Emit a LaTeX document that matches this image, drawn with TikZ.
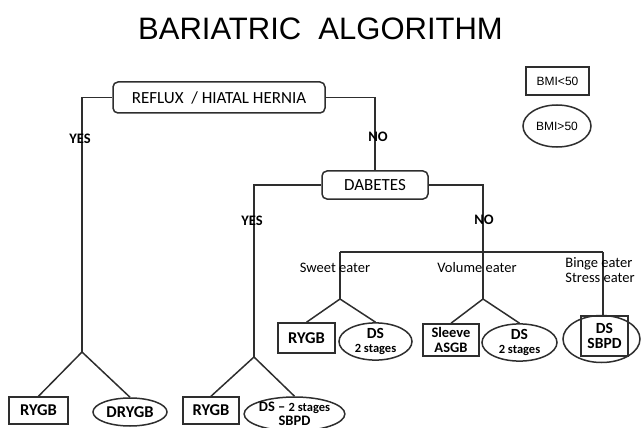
\documentclass[tikz,border=0pt]{standalone}
\usepackage{fontspec}
\setmainfont{Carlito}
\newfontfamily\arialf{Liberation Sans}
\usetikzlibrary{shapes.geometric}
\tikzset{
  ln/.style={line width=1.5pt, draw=black!82},
  rbox/.style={ln, rectangle, rounded corners=5pt, inner sep=0pt, font=\fontsize{17}{18}\selectfont},
  sbox/.style={ln, rectangle, inner sep=0pt, align=center},
  ebox/.style={ln, ellipse, inner sep=0pt, align=center},
  yn/.style={inner sep=0pt, font=\fontsize{14.5}{16}\selectfont\bfseries, text=black},
  eat/.style={inner sep=0pt, align=left, font=\fontsize{14.5}{15.5}\selectfont, text=black},
}
\begin{document}
\begin{tikzpicture}[x=1pt,y=-1pt]
\useasboundingbox (0,0) rectangle (641,428);
% title
\node[anchor=base, inner sep=0pt, font=\arialf\fontsize{31}{34}\selectfont] (title) at (320.5,40) {BARIATRIC\ \ ALGORITHM};
% legend
\node[sbox, minimum width=63pt, minimum height=28pt, font=\arialf\fontsize{12}{13}\selectfont] (lg1) at (557.5,81) {BMI<50};
\node[ebox, minimum width=68pt, minimum height=42pt, font=\arialf\fontsize{12}{13}\selectfont] (lg2) at (557,126) {BMI>50};
% decision boxes
\node[rbox, minimum width=212pt, minimum height=31pt] (reflux) at (219,97.5) {REFLUX\ \ / HIATAL HERNIA};
\node[rbox, minimum width=106pt, minimum height=28pt, font=\fontsize{17}{18}\selectfont] (dab) at (375,185) {DABETES};
% leaves bottom
\node[sbox, minimum width=59pt, minimum height=27pt, font=\fontsize{16.5}{18}\selectfont\bfseries] (rygb1) at (38.5,410.5) {RYGB};
\node[ebox, minimum width=74pt, minimum height=28pt, font=\fontsize{16.5}{18}\selectfont\bfseries] (drygb) at (130,412) {DRYGB};
\node[sbox, minimum width=56pt, minimum height=27pt, font=\fontsize{16.5}{18}\selectfont\bfseries] (rygb2) at (211,410.5) {RYGB};
\node[ebox, minimum width=97pt, minimum height=34pt, font=\fontsize{14.5}{14}\selectfont\bfseries] (ds1) at (294.5,414) {DS -- {\fontsize{12.5}{12}\selectfont 2 stages}\\SBPD};
% leaves middle
\node[sbox, minimum width=57pt, minimum height=30pt, font=\fontsize{16.5}{18}\selectfont\bfseries] (rygb3) at (306.5,338) {RYGB};
\node[ebox, minimum width=73pt, minimum height=33pt, font=\fontsize{15.5}{14}\selectfont\bfseries] (ds2) at (375.5,341.5) {DS\\{\fontsize{12.5}{13}\selectfont 2 stages}};
\node[sbox, minimum width=56pt, minimum height=32pt, font=\fontsize{14.5}{14.5}\selectfont\bfseries] (sleeve) at (451,340) {Sleeve\\ASGB};
\node[ebox, minimum width=75pt, minimum height=35pt, font=\fontsize{15.5}{14}\selectfont\bfseries] (ds3) at (519.5,342.5) {DS\\{\fontsize{12.5}{13}\selectfont 2 stages}};
\node[ebox, minimum width=77pt, minimum height=47pt] (ds4) at (601.5,339) {};
\node[sbox, minimum width=47pt, minimum height=40pt, font=\fontsize{15.5}{15.5}\selectfont\bfseries] (ds4b) at (604.5,336) {DS\\SBPD};
% coordinates
\coordinate (f1) at (82,352);
\coordinate (f2) at (254,357);
\coordinate (bm) at (483,252);
\coordinate (bl) at (340,252);
\coordinate (br) at (603,252);
\coordinate (f3) at (340,299);
\coordinate (f4) at (483,299);
% connectors
\draw[ln] (reflux.west) -| (f1);
\draw[ln] (f1) -- (rygb1.north);
\draw[ln] (f1) -- (drygb.north);
\draw[ln] (reflux.east) -| (dab.north);
\draw[ln] (dab.west) -| (f2);
\draw[ln] (f2) -- (rygb2.north);
\draw[ln] (f2) -- (ds1.north);
\draw[ln] (dab.east) -| (bm);
\draw[ln] (bl) -- (br);
\draw[ln] (bl) -- (f3);
\draw[ln] (f3) -- (rygb3.north);
\draw[ln] (f3) -- (ds2.north);
\draw[ln] (bm) -- (f4);
\draw[ln] (f4) -- (sleeve.north);
\draw[ln] (f4) -- (ds3.north);
\draw[ln] (br) -- (br |- ds4.north);
% labels
\node[yn] (yes1) at (80,139) {YES};
\node[yn] (no1) at (378,137) {NO};
\node[yn] (yes2) at (252,221) {YES};
\node[yn] (no2) at (484,220) {NO};
\node[eat] (sw) at (335,268) {Sweet eater};
\node[eat] (vo) at (477,268) {Volume eater};
\node[eat] (bi) at (600,270) {Binge eater\\Stress eater};
\end{tikzpicture}
\end{document}
